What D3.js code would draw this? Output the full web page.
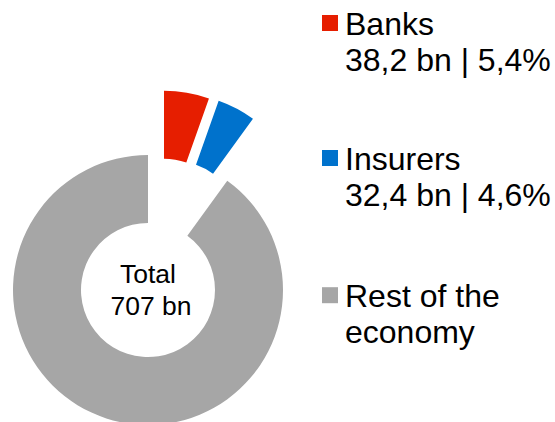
<!DOCTYPE html>
<html>
<head>
<meta charset="utf-8">
<script src="https://cdn.jsdelivr.net/npm/d3@7"></script>
<style>
  html, body { margin: 0; padding: 0; background: #fff; }
  svg { display: block; }
  text { font-family: "Liberation Sans", Arial, sans-serif; fill: #000; }
</style>
</head>
<body>
<svg id="chart" width="555" height="422"></svg>
<script>
// Exposure by sector, bn
const categories = ["Banks", "Insurers", "Rest of the economy"];
const values = [38.2, 32.4, 636.4];
const total = 707;
const legendLines = [
  ["Banks", "38,2 bn | 5,4%"],
  ["Insurers", "32,4 bn | 4,6%"],
  ["Rest of the", "economy"]
];
const centerLines = ["Total", "707 bn"];

const colors = d3.scaleOrdinal()
  .domain(categories)
  .range(["#E61E00", "#0072CC", "#A6A6A6"]);

// pulled-out offsets for the highlighted slices
const explode = {
  "Banks": [16, -64.3],
  "Insurers": [25.7, -62],
  "Rest of the economy": [0, 0]
};

const svg = d3.select("#chart");
const cx = 148, cy = 290;

const pie = d3.pie().sort(null).value(d => d.value);
const arc = d3.arc().innerRadius(67).outerRadius(135);

const slices = pie(categories.map((c, i) => ({ name: c, value: values[i] })));

const g = svg.append("g").attr("transform", `translate(${cx},${cy})`);
g.selectAll("path")
  .data(slices)
  .join("path")
  .attr("transform", d => `translate(${explode[d.data.name][0]},${explode[d.data.name][1]})`)
  .attr("d", arc)
  .attr("fill", d => colors(d.data.name));

// centre label
g.append("text")
  .attr("x", 0).attr("y", -7)
  .attr("text-anchor", "middle")
  .attr("font-size", 26.5)
  .text(centerLines[0]);
g.append("text")
  .attr("x", 3).attr("y", 25)
  .attr("text-anchor", "middle")
  .attr("font-size", 26.5)
  .text(centerLines[1]);

// legend
const legendY = [34.5, 169.5, 306.7];
const legend = svg.append("g");
categories.forEach((c, i) => {
  const row = legend.append("g").attr("transform", `translate(0,${legendY[i]})`);
  row.append("rect")
    .attr("x", 322).attr("y", -19.5)
    .attr("width", 16).attr("height", 16)
    .attr("fill", colors(c));
  legendLines[i].forEach((t, j) => {
    row.append("text")
      .attr("x", 345).attr("y", j * 36)
      .attr("font-size", 32)
      .text(t);
  });
});
</script>
</body>
</html>
